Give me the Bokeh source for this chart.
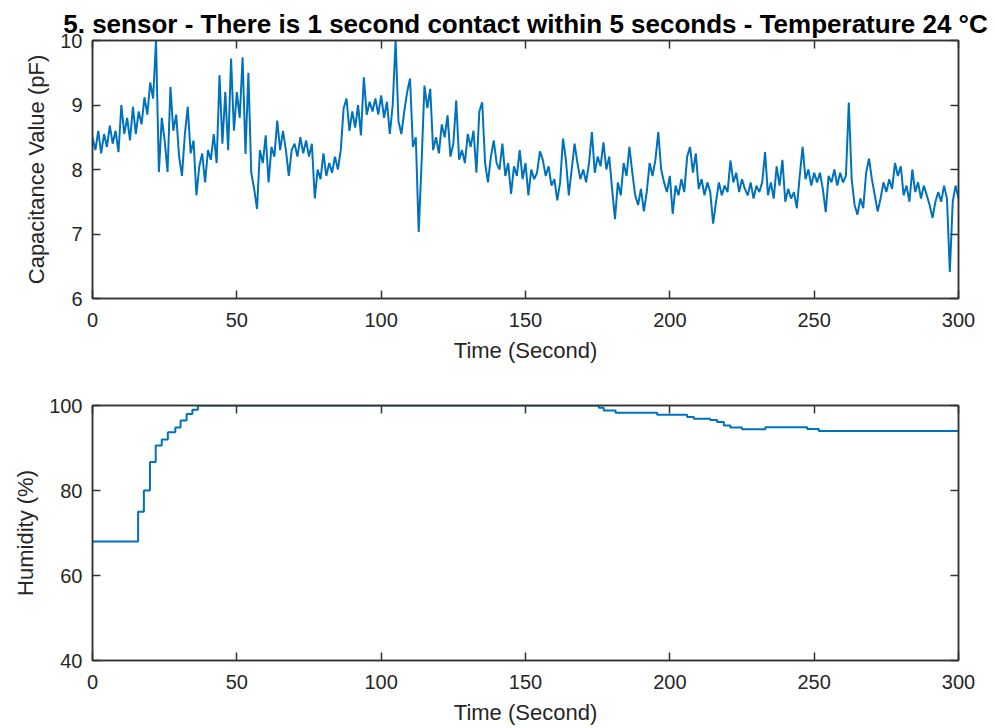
from bokeh.plotting import figure
from bokeh.models import Range1d, LinearAxis, FixedTicker
from bokeh.layouts import column
from bokeh.embed import file_html
from bokeh.resources import INLINE

# ---------------- data ----------------
title_text = "5. sensor - There is 1 second contact within 5 seconds - Temperature 24 \u00b0C"
x_ticks = [0, 50, 100, 150, 200, 250, 300]
cap_ticks = [6, 7, 8, 9, 10]
hum_ticks = [40, 60, 80, 100]

# capacitance (pF), one reading per second, t = 0..300
cap_values = [
    8.50, 8.30, 8.60, 8.25, 8.55, 8.35, 8.68, 8.40, 8.60, 8.27,
    9.00, 8.55, 8.80, 8.45, 8.97, 8.55, 8.90, 8.70, 9.12, 8.85,
    9.35, 9.10, 10.0, 7.96, 8.80, 8.45, 7.96, 9.28, 8.60, 8.85,
    8.20, 7.90, 8.55, 8.97, 8.25, 8.45, 7.60, 8.05, 8.25, 7.80,
    8.30, 8.15, 8.55, 8.10, 9.46, 8.40, 9.20, 8.30, 9.72, 8.60,
    9.20, 8.80, 9.74, 8.24, 9.50, 7.95, 7.70, 7.39, 8.30, 8.10,
    8.53, 7.80, 8.35, 8.20, 8.76, 8.30, 8.60, 8.30, 7.90, 8.30,
    8.40, 8.20, 8.50, 8.25, 8.45, 8.20, 8.40, 7.55, 8.00, 7.85,
    8.25, 7.90, 8.10, 7.95, 8.20, 8.00, 8.30, 8.95, 9.10, 8.60,
    8.90, 8.65, 9.00, 8.53, 9.43, 8.85, 9.05, 8.90, 9.10, 8.85,
    9.15, 8.80, 9.05, 8.55, 9.00, 10.0, 8.75, 8.55, 8.90, 9.20,
    9.41, 8.35, 8.50, 7.03, 8.10, 9.30, 8.95, 9.25, 8.30, 8.50,
    8.25, 8.70, 8.50, 8.84, 8.20, 8.40, 9.07, 8.15, 8.30, 8.10,
    8.55, 8.35, 8.60, 7.95, 8.90, 9.04, 8.10, 7.80, 8.20, 8.45,
    8.10, 8.00, 8.40, 7.90, 8.10, 7.62, 8.05, 7.90, 8.30, 7.85,
    8.10, 7.60, 8.00, 7.85, 7.95, 8.28, 8.15, 7.90, 8.05, 7.75,
    7.85, 7.52, 7.80, 8.48, 8.15, 7.60, 8.00, 8.40, 8.10, 7.85,
    8.00, 7.80, 8.10, 8.58, 7.95, 8.20, 8.05, 8.42, 8.00, 8.20,
    7.70, 7.23, 7.80, 7.60, 8.10, 7.90, 8.35, 7.95, 7.60, 7.45,
    7.70, 7.35, 7.65, 8.10, 7.90, 8.15, 8.58, 8.00, 7.80, 7.65,
    7.90, 7.31, 7.75, 7.60, 7.85, 7.65, 8.20, 8.35, 7.95, 8.25,
    7.70, 7.85, 7.60, 7.80, 7.65, 7.16, 7.50, 7.80, 7.60, 7.75,
    7.65, 8.14, 7.80, 7.95, 7.65, 7.85, 7.70, 7.60, 7.80, 7.55,
    7.75, 7.65, 7.80, 8.27, 7.60, 7.80, 7.55, 8.05, 7.75, 8.15,
    7.50, 7.70, 7.55, 7.65, 7.40, 7.90, 8.35, 7.85, 8.00, 7.75,
    7.95, 7.80, 7.95, 7.70, 7.34, 7.90, 7.80, 8.00, 7.75, 7.95,
    7.80, 7.90, 9.04, 7.85, 7.45, 7.30, 7.55, 7.40, 7.95, 8.17,
    7.85, 7.60, 7.35, 7.55, 7.80, 7.65, 7.85, 7.70, 8.10, 7.90,
    8.05, 7.60, 7.75, 7.50, 8.00, 7.65, 7.80, 7.55, 7.75, 7.60,
    7.45, 7.25, 7.50, 7.65, 7.50, 7.75, 7.55, 6.41, 7.50, 7.75,
    7.55,
]
cap_time = list(range(len(cap_values)))

# humidity (%), step changes
hum_time = [0, 15.8, 17.8, 19.9, 21.9, 24.0, 26.1, 28.7, 30.5, 32.6, 34.6, 36.5,
            175.4, 177.1, 181.2, 195.6, 206.0, 208.3, 214.0, 216.4, 218.7, 221.0,
            225.0, 233.1, 247.6, 251.6, 300]
hum_values = [68, 75, 80, 86.7, 90.6, 92, 93.7, 94.8, 96.5, 98, 99, 100,
              99.5, 98.8, 98.3, 97.8, 97.3, 96.9, 96.6, 96.1, 95.3, 94.8,
              94.4, 94.9, 94.5, 94.0, 94.0]

# ---------------- style ----------------
LINE = "#0072BD"
AX = "#333333"
TXT = "#262626"
FONT = "Liberation Sans"


def style_axis(ax, ticks, labels=True, label_standoff=12):
    ax.ticker = FixedTicker(ticks=ticks)
    ax.major_tick_in = 8
    ax.major_tick_out = 0
    ax.minor_tick_in = 0
    ax.minor_tick_out = 0
    ax.axis_line_color = AX
    ax.axis_line_width = 1.5
    ax.major_tick_line_color = AX
    ax.major_tick_line_width = 1.5
    ax.major_label_text_font = FONT
    ax.major_label_text_color = TXT
    ax.axis_label_text_font = FONT
    ax.axis_label_text_color = TXT
    ax.axis_label_text_font_style = "normal"
    ax.axis_label_text_font_size = "22px"
    ax.axis_label_standoff = 8
    if labels:
        ax.major_label_text_font_size = "20px"
        ax.major_label_standoff = label_standoff
    else:
        ax.major_label_text_font_size = "1px"
        ax.major_label_text_color = None
        ax.major_label_standoff = 0


def make_fig(height, yr, yticks, ylabel, top, bottom, title=None):
    p = figure(width=997, height=height, x_range=Range1d(0, 300), y_range=Range1d(*yr),
               output_backend="svg", toolbar_location=None, title=title,
               min_border_left=92, min_border_right=39,
               min_border_top=top, min_border_bottom=bottom)
    p.grid.visible = False
    p.outline_line_color = AX
    p.outline_line_width = 1.5
    p.background_fill_color = "white"
    p.border_fill_color = "white"
    style_axis(p.xaxis[0], x_ticks, True, 14)
    style_axis(p.yaxis[0], yticks, True, 10)
    p.xaxis[0].axis_label = "Time (Second)"
    p.yaxis[0].axis_label = ylabel
    ax_r = LinearAxis()
    style_axis(ax_r, yticks, False)
    p.add_layout(ax_r, "right")
    ax_t = LinearAxis()
    style_axis(ax_t, x_ticks, False)
    p.add_layout(ax_t, "above")
    return p


p1 = make_fig(370, (6, 10), cap_ticks, "Capacitance Value (pF)", 40, 72, title=title_text)
p1.title.text_font = FONT
p1.title.text_font_size = "26px"
p1.title.text_font_style = "bold"
p1.title.text_color = "#000000"
p1.title.align = "center"
p1.title.standoff = 4
p1.line(cap_time, cap_values, line_color=LINE, line_width=2)

p2 = make_fig(358, (40, 100), hum_ticks, "Humidity (%)", 35, 68)
p2.step(hum_time, hum_values, mode="after", line_color=LINE, line_width=2)

layout = column(p1, p2, spacing=0)
open("out.html", "w").write(file_html(layout, INLINE))
